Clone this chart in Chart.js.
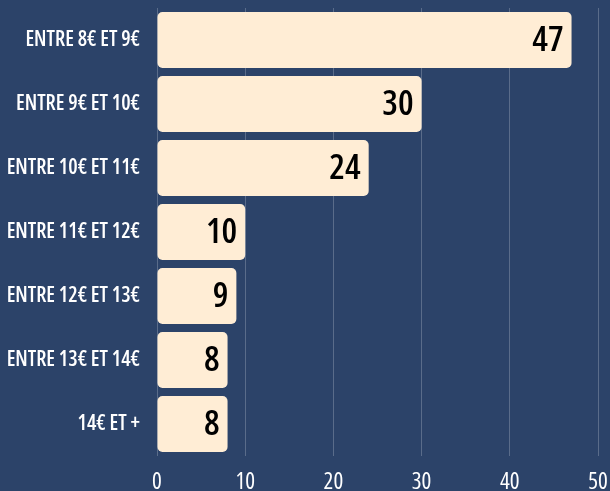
<!DOCTYPE html>
<html><head><meta charset="utf-8">
<script src="https://cdn.jsdelivr.net/npm/chart.js@4.4.0/dist/chart.umd.min.js"></script>
<style>
html,body{margin:0;padding:0;background:#2c4369;overflow:hidden;}
#wrap{width:610px;height:491px;position:relative;}
</style></head><body>
<div id="wrap"><canvas id="c"></canvas></div>
<script>
const categories = ["ENTRE 8€ ET 9€","ENTRE 9€ ET 10€","ENTRE 10€ ET 11€","ENTRE 11€ ET 12€","ENTRE 12€ ET 13€","ENTRE 13€ ET 14€","14€ ET +"];
const values = [47,30,24,10,9,8,8];
const xTicks = [0,10,20,30,40,50];

const FONT = "'Open Sans',sans-serif";

const valueLabels = {
  id:'valueLabels',
  afterDatasetsDraw(chart){
    const ctx = chart.ctx;
    const meta = chart.getDatasetMeta(0);
    ctx.save();
    ctx.fillStyle = '#000';
    ctx.font = "600 condensed 35px " + FONT;
    ctx.textAlign = 'right';
    ctx.textBaseline = 'middle';
    meta.data.forEach((bar,i)=>{
      ctx.fillText(String(values[i]), bar.x - 8, bar.y + 1);
    });
    ctx.restore();
  }
};

new Chart(document.getElementById('c'),{
  type:'bar',
  data:{labels:categories,datasets:[{data:values,backgroundColor:'#ffedd5',borderRadius:5,borderSkipped:false,barPercentage:0.875,categoryPercentage:1}]},
  options:{
    indexAxis:'y',responsive:true,maintainAspectRatio:false,animation:false,
    layout:{padding:{top:8,right:0,bottom:0,left:0}},
    plugins:{legend:{display:false},tooltip:{enabled:false}},
    scales:{
      x:{min:0,max:50,
        afterBuildTicks(s){s.ticks = xTicks.map(v=>({value:v}));},
        afterFit(s){s.height=35; s.paddingRight=12;},
        grid:{color:'rgba(255,255,255,0.22)',drawTicks:false},
        border:{display:false},
        ticks:{color:'#fff',font:{family:FONT,size:23,weight:'500 condensed'},padding:13}},
      y:{grid:{display:false,drawTicks:false},border:{display:false},
        afterFit(s){s.width=157; s.paddingTop=0; s.paddingBottom=0;},
        ticks:{color:'#fff',font:{family:FONT,size:21,weight:'600 condensed'},padding:17}}
    }
  },
  plugins:[valueLabels]
});
</script></body></html>
